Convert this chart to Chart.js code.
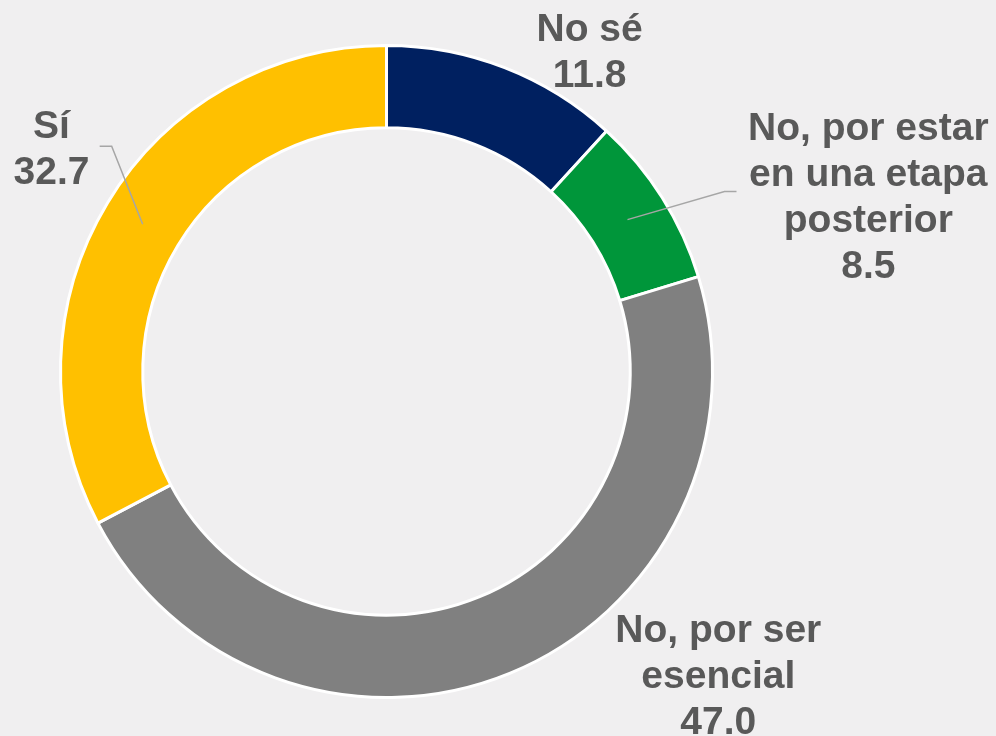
<!DOCTYPE html>
<html lang="es">
<head>
    <meta charset="UTF-8">
    <title>Doughnut</title>
    <style>
        html, body { margin: 0; padding: 0; background: #F0EFF0; }
        .wrap { width: 996px; height: 736px; position: relative; }
    </style>
</head>
<body>
    <div class="wrap">
        <canvas id="myChart" width="996" height="736"></canvas>
    </div>
    <script src="https://cdn.jsdelivr.net/npm/chart.js@4/dist/chart.umd.min.js"></script>
    <script>
        // data
        var labels = ["No sé", "No, por estar en una etapa posterior", "No, por ser esencial", "Sí"];
        var values = [11.8, 8.5, 47.0, 32.7];
        var colors = ["#002060", "#00963A", "#808080", "#FFC000"];
        // label text split in lines
        var labelLines = [
            ["No sé"],
            ["No, por estar", "en una etapa", "posterior"],
            ["No, por ser", "esencial"],
            ["Sí"]
        ];

        // label placement, relative to the outer edge at the slice mid angle
        var labelOffset = [[85, -27], [206, -58], [208, -31], [-56, -65]];
        // leader lines: elbow and end relative to slice centroid (null = none)
        var leaders = [null, [[97, -28], [109, -28]], null, [[-31, -78], [-43, -78]]];

        var labelPlugin = {
            id: "sliceLabels",
            afterDatasetsDraw: function (chart) {
                var ctx = chart.ctx;
                var meta = chart.getDatasetMeta(0);
                ctx.save();
                meta.data.forEach(function (arc, i) {
                    var p = arc.getProps(["x", "y", "startAngle", "endAngle", "innerRadius", "outerRadius"], true);
                    var mid = (p.startAngle + p.endAngle) / 2;
                    var rc = (p.innerRadius + p.outerRadius) / 2;
                    var cx = p.x + Math.cos(mid) * rc;
                    var cy = p.y + Math.sin(mid) * rc;
                    if (leaders[i]) {
                        ctx.strokeStyle = "#A6A6A6";
                        ctx.lineWidth = 1.5;
                        ctx.beginPath();
                        ctx.moveTo(cx, cy);
                        ctx.lineTo(cx + leaders[i][0][0], cy + leaders[i][0][1]);
                        ctx.lineTo(cx + leaders[i][1][0], cy + leaders[i][1][1]);
                        ctx.stroke();
                    }
                    var ox = p.x + Math.cos(mid) * p.outerRadius + labelOffset[i][0];
                    var oy = p.y + Math.sin(mid) * p.outerRadius + labelOffset[i][1];
                    var lines = labelLines[i].concat([values[i].toFixed(1)]);
                    ctx.fillStyle = "#595959";
                    ctx.font = "bold 39px 'Liberation Sans', Arial, sans-serif";
                    ctx.textAlign = "center";
                    ctx.textBaseline = "alphabetic";
                    lines.forEach(function (t, k) {
                        ctx.fillText(t, ox, oy + k * 46);
                    });
                });
                ctx.restore();
            }
        };

        var ctx = document.getElementById("myChart").getContext("2d");
        var chart = new Chart(ctx, {
            type: "doughnut",
            data: {
                labels: labels,
                datasets: [{
                    data: values,
                    backgroundColor: colors,
                    borderColor: "#FFFFFF",
                    borderWidth: 3
                }]
            },
            options: {
                responsive: false,
                animation: false,
                cutout: 243,
                radius: 326,
                layout: { padding: { left: 60, top: 45, right: 283, bottom: 38 } },
                plugins: {
                    legend: { display: false },
                    tooltip: { enabled: false }
                }
            },
            plugins: [labelPlugin]
        });
    </script>
</body>
</html>
